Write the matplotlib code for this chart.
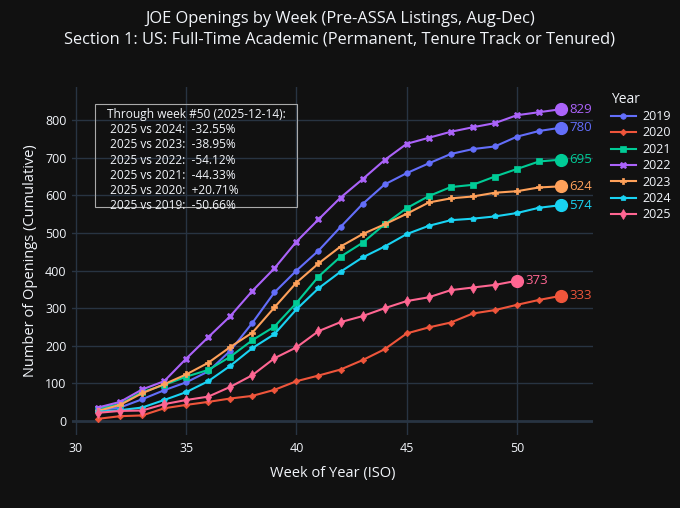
import matplotlib
matplotlib.use('Agg')
import matplotlib.pyplot as plt
from matplotlib.patches import Rectangle

plt.rcParams['font.family'] = ['Open Sans', 'DejaVu Sans']

# data
weeks = list(range(31, 53))
weeks_2025 = list(range(31, 51))
years = ['2019', '2020', '2021', '2022', '2023', '2024', '2025']
openings_2019 = [29, 36, 58, 82, 103, 132, 187, 261, 342, 400, 453, 516, 577, 629, 659, 685, 710, 723, 730, 756, 771, 780]
openings_2020 = [6, 13, 15, 34, 43, 51, 60, 67, 83, 106, 121, 137, 162, 191, 233, 249, 262, 286, 295, 309, 322, 333]
openings_2021 = [33, 45, 77, 96, 118, 136, 171, 215, 251, 314, 384, 437, 474, 523, 566, 598, 622, 628, 650, 670, 690, 695]
openings_2022 = [36, 51, 84, 106, 166, 223, 279, 346, 406, 477, 536, 594, 643, 694, 737, 753, 769, 781, 792, 813, 821, 829]
openings_2023 = [27, 43, 74, 98, 124, 155, 197, 235, 302, 368, 419, 464, 497, 523, 551, 581, 592, 597, 607, 611, 621, 624]
openings_2024 = [25, 29, 36, 56, 77, 106, 147, 194, 231, 297, 353, 397, 435, 464, 497, 519, 534, 538, 544, 553, 567, 574]
openings_2025 = [22, 27, 28, 45, 56, 65, 91, 122, 167, 196, 239, 263, 279, 300, 319, 329, 348, 355, 362, 373]
through_week = 50
through_date = '2025-12-14'

series = {
    '2019': (weeks, openings_2019),
    '2020': (weeks, openings_2020),
    '2021': (weeks, openings_2021),
    '2022': (weeks, openings_2022),
    '2023': (weeks, openings_2023),
    '2024': (weeks, openings_2024),
    '2025': (weeks_2025, openings_2025),
}
colors = ['#636EFA', '#EF553B', '#00CC96', '#AB63FA', '#FFA15A', '#19D3F3', '#FF6692']
markers = ['o', 'D', 's', 'X', 'P', 'p', 'd']
msizes = [4.0, 3.3, 3.8, 4.6, 4.6, 4.2, 4.6]

bg = '#111111'
grid = '#283442'
fg = '#f2f5fa'

fig = plt.figure(figsize=(6.8, 5.08), dpi=100, facecolor=bg)
ax = fig.add_axes([72 / 680, 1 - 435 / 508, 521 / 680, 348 / 508], facecolor=bg)

handles = []
for year, c, m, ms in zip(years, colors, markers, msizes):
    x, y = series[year]
    h, = ax.plot(x, y, color=c, lw=1.5, marker=m, ms=ms, mec=c, mfc=c, mew=0.5,
                 label=year, zorder=3)
    handles.append(h)
    ax.plot(x[-1], y[-1], 'o', color=c, ms=8.5, zorder=4)
    ax.annotate(str(y[-1]), (x[-1], y[-1]), xytext=(6, 0), textcoords='offset points',
                color=c, fontsize=9.5, va='center', ha='left')

ax.set_xlim(29.82, 53.45)
ax.set_ylim(-37, 888)
ax.set_xticks([30, 35, 40, 45, 50])
ax.set_yticks(range(0, 801, 100))
ax.grid(True, color=grid, lw=1)
ax.axhline(0, color=grid, lw=2, zorder=1)
ax.set_axisbelow(True)
for s in ax.spines.values():
    s.set_visible(False)
ax.tick_params(colors=fg, labelsize=9, length=0)
ax.tick_params(axis='y', pad=4)
ax.tick_params(axis='x', pad=5)
ax.set_xlabel('Week of Year (ISO)', color=fg, fontsize=10.5, labelpad=8)
ax.set_ylabel('Number of Openings (Cumulative)', color=fg, fontsize=10.5, labelpad=5)

fig.suptitle('JOE Openings by Week (Pre-ASSA Listings, Aug-Dec)\n'
             'Section 1: US: Full-Time Academic (Permanent, Tenure Track or Tenured)',
             color=fg, fontsize=11.8, y=0.978, linespacing=1.38)

# comparison box
idx = weeks.index(through_week)
last = openings_2025[weeks_2025.index(through_week)]
lines = [f'Through week #{through_week} ({through_date}):']
for year in ['2024', '2023', '2022', '2021', '2020', '2019']:
    pct = (last / series[year][1][idx] - 1) * 100
    lines.append(f' 2025 vs {year}:  {pct:+.2f}%')
fig.text(107 / 680, 1 - 108 / 508, '\n'.join(lines), color=fg, fontsize=8.6,
         va='top', ha='left', linespacing=1.22)
fig.patches.append(Rectangle((95 / 680, 1 - 207 / 508), 202 / 680, 103 / 508,
                             transform=fig.transFigure, fill=False, ec='#aaaaaa', lw=0.8))

leg = ax.legend(handles=handles, title='Year', loc='upper left',
                bbox_to_anchor=(607 / 680, 1 - 88 / 508), bbox_transform=fig.transFigure,
                frameon=False, fontsize=9, title_fontsize=10, labelcolor=fg,
                handlelength=2.0, handletextpad=0.5, labelspacing=0.27,
                alignment='left', borderaxespad=0, borderpad=0.3)
leg.get_title().set_color(fg)

plt.savefig('out.png', dpi=100, facecolor=bg)
